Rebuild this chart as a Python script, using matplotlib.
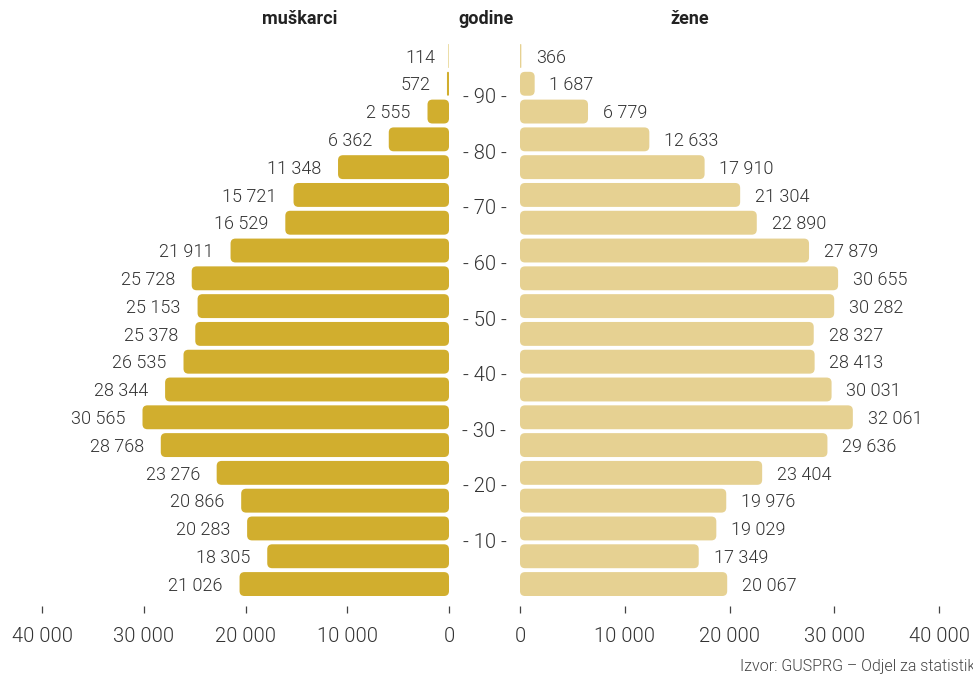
import matplotlib
matplotlib.use("Agg")
import matplotlib.pyplot as plt
from matplotlib.patches import FancyBboxPatch

plt.rcParams['font.family'] = ['Roboto', 'DejaVu Sans']

age_groups = ["0-4", "5-9", "10-14", "15-19", "20-24", "25-29", "30-34", "35-39",
              "40-44", "45-49", "50-54", "55-59", "60-64", "65-69", "70-74", "75-79",
              "80-84", "85-89", "90-94", "95+"]
men = [21026, 18305, 20283, 20866, 23276, 28768, 30565, 28344, 26535, 25378,
       25153, 25728, 21911, 16529, 15721, 11348, 6362, 2555, 572, 114]
women = [20067, 17349, 19029, 19976, 23404, 29636, 32061, 30031, 28413, 28327,
         30282, 30655, 27879, 22890, 21304, 17910, 12633, 6779, 1687, 366]
age_ticks = [10, 20, 30, 40, 50, 60, 70, 80, 90]
x_ticks = [0, 10000, 20000, 30000, 40000]
titles = ["muškarci", "godine", "žene"]
source = "Izvor: GUSPRG – Odjel za statistiku"

MEN_C = "#D1AE2E"
WOMEN_C = "#E6D192"
TXT = "#333333"
LIGHT = 300

W, H = 973, 676
fig = plt.figure(figsize=(W / 100, H / 100), dpi=100)

ax_bottom_px, ax_top_px = 606, 39.3
bot = 1 - ax_bottom_px / H
hgt = (ax_bottom_px - ax_top_px) / H
axL = fig.add_axes([42 / W, bot, 407 / W, hgt])
axR = fig.add_axes([520 / W, bot, 419 / W, hgt])

ylim = (-0.79, 19.6)
y = list(range(len(age_groups)))


def fmt(v):
    return f"{v:,}".replace(",", " ")


def rounded_bars(ax, vals, color, xlim, inset_px):
    ax.set_xlim(*xlim)
    ax.set_ylim(*ylim)
    bars = ax.barh(y, vals, height=0.86, color=color)
    fig.canvas.draw()
    t = ax.transData
    p0 = t.transform((0, 0))
    p1 = t.transform((1000, 1))
    xpx = abs(p1[0] - p0[0]) / 1000.0  # px per x unit
    ypx = abs(p1[1] - p0[1])           # px per y unit
    r_px = 5.0
    for b in bars:
        x0, y0, w, h = b.get_x(), b.get_y(), b.get_width(), b.get_height()
        b.set_visible(False)
        # small visual padding at the outer end, as in the original chart
        w_vis = max(w - inset_px / xpx, w * 0.35)
        r = min(r_px / xpx, w_vis / 2.0)
        r = max(r, 1e-9)
        aspect = (r_px / ypx) / (r_px / xpx)
        patch = FancyBboxPatch((x0, y0), w_vis, h,
                               boxstyle=f"round,pad=0,rounding_size={r}",
                               mutation_aspect=aspect,
                               facecolor=color, edgecolor="none")
        ax.add_patch(patch)
    return bars


rounded_bars(axL, men, MEN_C, (40000, 0), 4.5)
rounded_bars(axR, women, WOMEN_C, (0, 40000), 3.0)

for i, v in enumerate(men):
    axL.annotate(fmt(v), (v, i), xytext=(-8.8, -1.2), textcoords="offset points",
                 ha="right", va="center", fontsize=13, color=TXT,
                 fontweight=LIGHT)
for i, v in enumerate(women):
    axR.annotate(fmt(v), (v, i), xytext=(8.5, -1.2), textcoords="offset points",
                 ha="left", va="center", fontsize=13, color=TXT,
                 fontweight=LIGHT)

for ax in (axL, axR):
    for s in ax.spines.values():
        s.set_visible(False)
    ax.set_yticks([])
    ax.set_xticks(x_ticks)
    ax.set_xticklabels([fmt(v) for v in x_ticks], fontsize=14.5, color=TXT,
                       fontweight=LIGHT)
    ax.tick_params(axis="x", length=5, width=0.9, color="#444444", pad=10)

# age labels in the middle
for a in age_ticks:
    pos = a / 5 - 0.5
    axL.annotate(f"- {a} -", xy=(1, pos), xycoords=("axes fraction", "data"),
                 xytext=(35.5 * 0.72, 0), textcoords="offset points",
                 ha="center", va="center", fontsize=14.5, color=TXT,
                 fontweight=LIGHT, annotation_clip=False)

for xc, t in zip([300, 486, 690], titles):
    fig.text(xc / W, 1 - 19 / H, t, ha="center", va="center",
             fontsize=13, fontweight="bold", color="#222222")

fig.text(740 / W, 1 - 667 / H, source, ha="left", va="center",
         fontsize=11.5, color="#444444", fontweight=LIGHT)

fig.savefig("out.png", dpi=100)
